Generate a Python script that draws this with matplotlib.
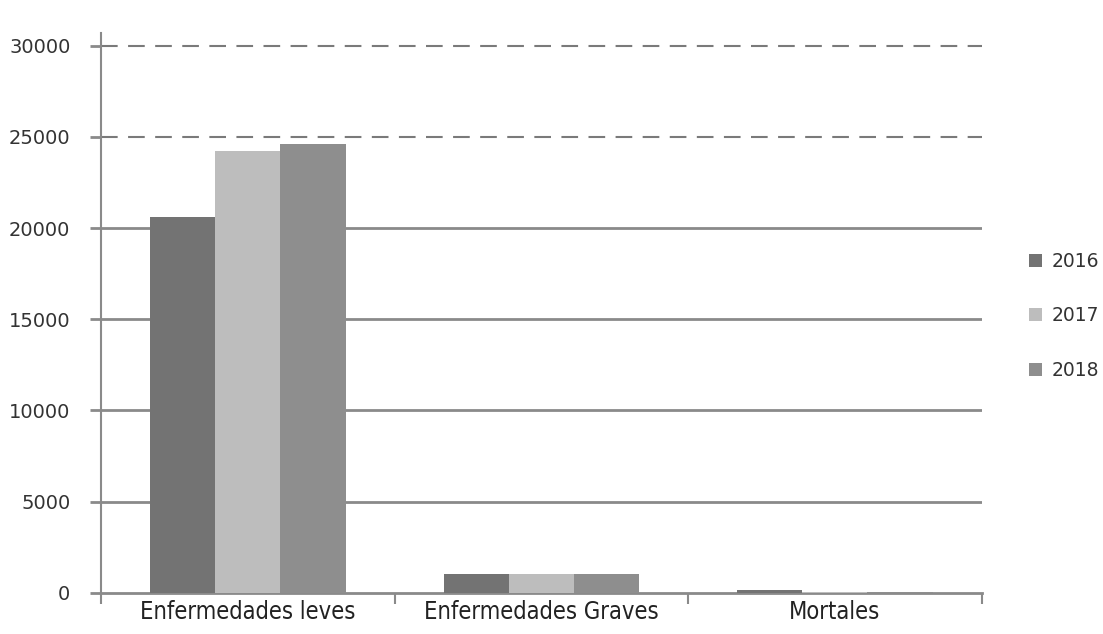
import numpy as np
import matplotlib.pyplot as plt

# datos
categorias = ["Enfermedades leves", "Enfermedades Graves", "Mortales"]
anios = ["2016", "2017", "2018"]
v2016 = [20600, 1050, 150]
v2017 = [24200, 1050, 30]
v2018 = [24600, 1050, 30]
colores = ["#737373", "#bdbdbd", "#8e8e8e"]

yticks = [0, 5000, 10000, 15000, 20000, 25000, 30000]

fig = plt.figure(figsize=(11.03, 6.34), dpi=100)
ax = fig.add_axes([0.0916, 0.0647, 0.7984, 0.8923])

x = np.arange(len(categorias))
w = 0.222
for i, (vals, c, lab) in enumerate(zip([v2016, v2017, v2018], colores, anios)):
    ax.bar(x + (i - 1) * w, vals, width=w, color=c, label=lab, zorder=3)

ax.set_xlim(-0.5, 2.5)
ax.set_ylim(0, 31000)

# líneas de rejilla: sólidas abajo, discontinuas arriba
for t in yticks[1:]:
    if t >= 25000:
        ax.axhline(t, color="#7a7a7a", lw=1.5, ls=(0, (8, 5)), zorder=1)
    else:
        ax.axhline(t, color="#8a8a8a", lw=2, zorder=1)

ax.set_yticks(yticks)
ax.set_yticklabels([str(t) for t in yticks], fontsize=14, color="#333333")
ax.tick_params(axis="y", length=8, width=2, color="#8a8a8a", pad=14)

ax.set_xticks(x)
ax.set_xticklabels(categorias, fontsize=17, fontstretch="condensed", color="#222222")
ax.tick_params(axis="x", length=0, pad=5)
ax.set_xticks(np.arange(-0.5, 3, 1), minor=True)
ax.tick_params(axis="x", which="minor", length=8, width=1.5, color="#8a8a8a")

for s in ["top", "right"]:
    ax.spines[s].set_visible(False)
ax.spines["left"].set_color("#8a8a8a")
ax.spines["left"].set_linewidth(1.5)
ax.spines["left"].set_bounds(0, 30700)
ax.spines["bottom"].set_color("#8a8a8a")
ax.spines["bottom"].set_linewidth(2)

leg = ax.legend(loc="center left", bbox_to_anchor=(1.035, 0.49), frameon=False,
                fontsize=13.5, handlelength=0.7, handleheight=0.7,
                labelspacing=1.9, handletextpad=0.5)
for t in leg.get_texts():
    t.set_color("#333333")

plt.savefig("out.png", dpi=100)
